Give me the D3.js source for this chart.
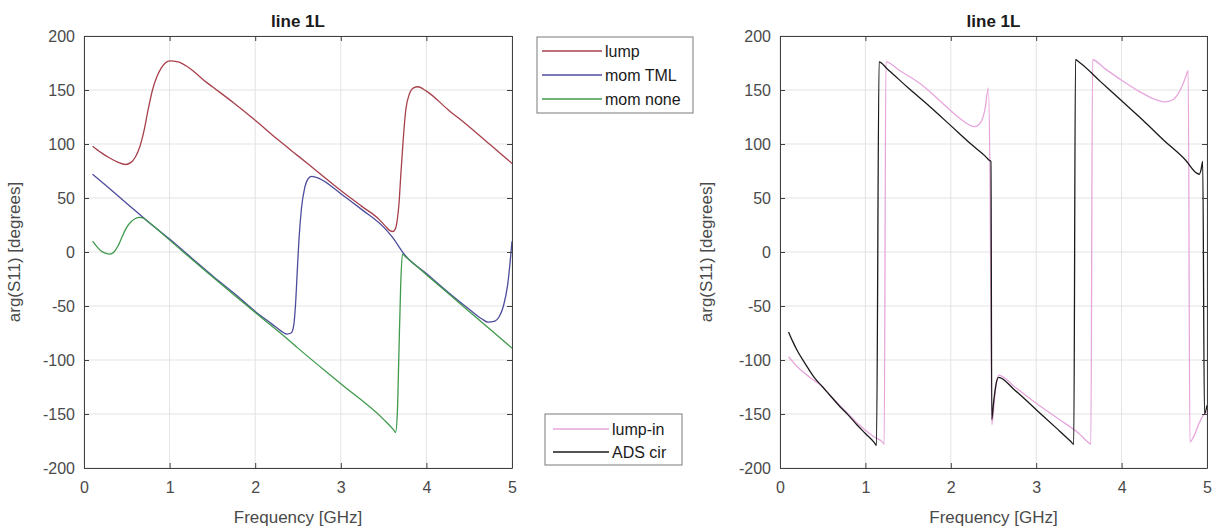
<!DOCTYPE html>
<html>
<head>
<meta charset="utf-8">
<script src="https://cdn.jsdelivr.net/npm/d3@7"></script>
<style>
  body { margin: 0; background: #fff; }
  svg { display: block; font-family: "Liberation Sans", Arial, sans-serif; }
</style>
</head>
<body>
<svg id="chart" width="1217" height="532"></svg>
<script>
var freqTicks = [0, 1, 2, 3, 4, 5];
var phaseTicks = [-200, -150, -100, -50, 0, 50, 100, 150, 200];

// left panel  [GHz, degrees]
var lump = [[0.10,98],[0.20,92],[0.30,87],[0.40,83],[0.48,81],[0.55,83],[0.60,88],[0.65,97],[0.70,112],
  [0.75,132],[0.80,150],[0.85,162],[0.90,170],[0.95,175],[1.00,177],[1.10,176],[1.20,172],[1.30,166],
  [1.40,159],[1.50,153],[1.75,138],[2.00,122],[2.25,105],[2.50,89],[2.75,73],[3.00,57],[3.25,42],
  [3.45,30],[3.52,24],[3.57,20],[3.61,19],[3.64,22],[3.66,30],[3.68,45],[3.70,70],[3.73,105],[3.76,132],
  [3.80,146],[3.85,152],[3.90,153],[4.00,149],[4.25,132],[4.50,116],[4.75,99],[5.00,82]];
var momTML = [[0.10,72],[0.25,62],[0.50,45],[0.75,28],[1.00,12],[1.25,-5],[1.50,-22],[1.75,-38],
  [2.00,-55],[2.20,-67],[2.30,-73],[2.37,-76],[2.42,-75],[2.45,-68],[2.47,-50],[2.49,-20],[2.51,10],
  [2.54,40],[2.58,60],[2.62,68],[2.66,70],[2.75,68],[3.00,54],[3.25,39],[3.50,23],[3.60,14],[3.75,-3],
  [4.00,-20],[4.25,-37],[4.50,-53],[4.65,-62],[4.72,-65],[4.80,-64],[4.85,-60],[4.90,-50],[4.95,-30],
  [5.00,10]];
var momNone = [[0.10,10],[0.15,5],[0.20,1],[0.25,-1],[0.30,-2],[0.35,0],[0.40,6],[0.45,15],[0.50,23],
  [0.55,28],[0.60,31],[0.65,32],[0.70,31],[0.75,28],[1.00,11],[1.50,-23],[2.00,-56],[2.37,-80],
  [2.50,-89],[3.00,-122],[3.50,-155],[3.62,-165],[3.64,-167],[3.66,-150],[3.68,-90],[3.70,-30],
  [3.72,-2],[3.75,-4],[4.00,-21],[4.50,-55],[5.00,-89]];

// right panel
var lumpIn = [[0.10,-97],[0.20,-106],[0.30,-113],[0.40,-119],[0.50,-125],[0.60,-134],[0.70,-142],
  [0.80,-150],[0.90,-158],[1.00,-165],[1.10,-171],[1.20,-176],[1.22,-178],[1.24,176],[1.40,168],
  [1.64,156],[1.90,138],[2.10,124],[2.28,116],[2.35,120],[2.40,132],[2.44,152],[2.46,60],[2.48,-160],
  [2.52,-130],[2.56,-114],[2.75,-125],[3.00,-140],[3.25,-154],[3.50,-168],[3.62,-177],[3.64,-178],
  [3.66,178],[3.80,170],[4.00,159],[4.20,149],[4.40,141],[4.50,139],[4.60,141],[4.65,145],[4.70,152],
  [4.75,162],[4.78,168],[4.80,-176],[4.85,-170],[4.90,-160],[4.95,-152],[5.00,-148]];
var adsCir = [[0.10,-74],[0.15,-83],[0.20,-91],[0.30,-104],[0.40,-116],[0.50,-125],[0.60,-134],
  [0.70,-143],[0.80,-151],[0.90,-160],[1.00,-168],[1.10,-176],[1.13,-179],[1.16,176],[1.25,170],
  [1.50,152],[1.75,135],[2.00,117],[2.25,99],[2.40,89],[2.45,85],[2.47,84],[2.48,-155],[2.50,-140],
  [2.53,-122],[2.56,-116],[2.75,-128],[3.00,-146],[3.25,-164],[3.40,-175],[3.44,-178],[3.46,178],
  [3.50,176],[3.75,158],[4.00,140],[4.25,122],[4.50,103],[4.75,85],[4.88,73],[4.91,72],[4.93,76],
  [4.95,84],[4.97,-150],[5.00,-142]];

var leftSeries = [
  { name: 'lump', data: lump, color: '#a8404c' },
  { name: 'mom TML', data: momTML, color: '#4c4c9c' },
  { name: 'mom none', data: momNone, color: '#3f9a4c' }
];
var rightSeries = [
  { name: 'lump-in', data: lumpIn, color: '#e6a6dc' },
  { name: 'ADS cir', data: adsCir, color: '#1a1a1a' }
];

var svg = d3.select('#chart');
var plainNum = function(d){ return String(d); };   // hyphen minus, no decimals

function drawPanel(box, series, legend) {
  var x = d3.scaleLinear().domain([0, 5]).range([box.x0, box.x1]);
  var y = d3.scaleLinear().domain([-200, 200]).range([box.y1, box.y0]);
  var g = svg.append('g');

  // grid
  g.append('g').selectAll('line').data(freqTicks).enter().append('line')
    .attr('x1', function(d){ return x(d); }).attr('x2', function(d){ return x(d); })
    .attr('y1', box.y0).attr('y2', box.y1)
    .attr('stroke', '#e3e3e3').attr('stroke-width', 1);
  g.append('g').selectAll('line').data(phaseTicks).enter().append('line')
    .attr('y1', function(d){ return y(d); }).attr('y2', function(d){ return y(d); })
    .attr('x1', box.x0).attr('x2', box.x1)
    .attr('stroke', '#e3e3e3').attr('stroke-width', 1);

  // data lines
  var line = d3.line()
    .x(function(d){ return x(d[0]); })
    .y(function(d){ return y(d[1]); })
    .curve(d3.curveMonotoneX);
  series.forEach(function(s){
    g.append('path').datum(s.data)
      .attr('d', line)
      .attr('fill', 'none')
      .attr('stroke', s.color)
      .attr('stroke-width', 1.3);
  });

  // axes, ticks pointing inward like matlab
  var axBottom = d3.axisBottom(x).tickValues(freqTicks).tickSizeInner(-5).tickSizeOuter(0).tickPadding(14).tickFormat(plainNum);
  var axTop = d3.axisTop(x).tickValues(freqTicks).tickSizeInner(-5).tickSizeOuter(0).tickFormat('');
  var axLeft = d3.axisLeft(y).tickValues(phaseTicks).tickSizeInner(-5).tickSizeOuter(0).tickPadding(9).tickFormat(plainNum);
  var axRight = d3.axisRight(y).tickValues(phaseTicks).tickSizeInner(-5).tickSizeOuter(0).tickFormat('');

  var axes = [
    [axBottom, 'translate(0,' + box.y1 + ')'],
    [axTop, 'translate(0,' + box.y0 + ')'],
    [axLeft, 'translate(' + box.x0 + ',0)'],
    [axRight, 'translate(' + box.x1 + ',0)']
  ];
  axes.forEach(function(a){
    var ag = g.append('g').attr('transform', a[1]).call(a[0]);
    ag.select('.domain').attr('stroke', '#404040');
    ag.selectAll('.tick line').attr('stroke', '#404040');
    ag.selectAll('text').attr('fill', '#4a4a4a').attr('font-size', 16)
      .attr('font-family', '"Liberation Sans", Arial, sans-serif');
  });

  // title and labels
  var cx = (box.x0 + box.x1) / 2;
  g.append('text').attr('x', cx).attr('y', 27).attr('text-anchor', 'middle')
    .attr('font-size', 17).attr('font-weight', 'bold').attr('fill', '#1a1a1a').text('line 1L');
  g.append('text').attr('x', cx).attr('y', 523).attr('text-anchor', 'middle')
    .attr('font-size', 17).attr('fill', '#4a4a4a').text('Frequency [GHz]');
  g.append('text')
    .attr('transform', 'translate(' + box.ylab + ',' + ((box.y0 + box.y1) / 2) + ') rotate(-90)')
    .attr('text-anchor', 'middle').attr('font-size', 17).attr('fill', '#4a4a4a')
    .text('arg(S11) [degrees]');

  // legend
  var lg = svg.append('g');
  lg.append('rect').attr('x', legend.x).attr('y', legend.y).attr('width', legend.w).attr('height', legend.h)
    .attr('fill', '#fff').attr('stroke', '#7a7a7a').attr('stroke-width', 1);
  series.forEach(function(s, i){
    var yy = legend.y + legend.first + i * legend.step;
    lg.append('line').attr('x1', legend.lx0).attr('x2', legend.lx1).attr('y1', yy).attr('y2', yy)
      .attr('stroke', s.color).attr('stroke-width', 1.3);
    lg.append('text').attr('x', legend.lx1 + 3).attr('y', yy).attr('dy', '0.35em')
      .attr('font-size', 16).attr('fill', '#1a1a1a').text(s.name);
  });
}

drawPanel({ x0: 84, x1: 512, y0: 36, y1: 468, ylab: 20 }, leftSeries,
  { x: 537, y: 37, w: 156, h: 76, first: 14, step: 24, lx0: 542, lx1: 602 });
drawPanel({ x0: 780, x1: 1207, y0: 36, y1: 468, ylab: 712 }, rightSeries,
  { x: 545, y: 414, w: 137, h: 51, first: 15, step: 23, lx0: 553, lx1: 609 });
</script>
</body>
</html>
